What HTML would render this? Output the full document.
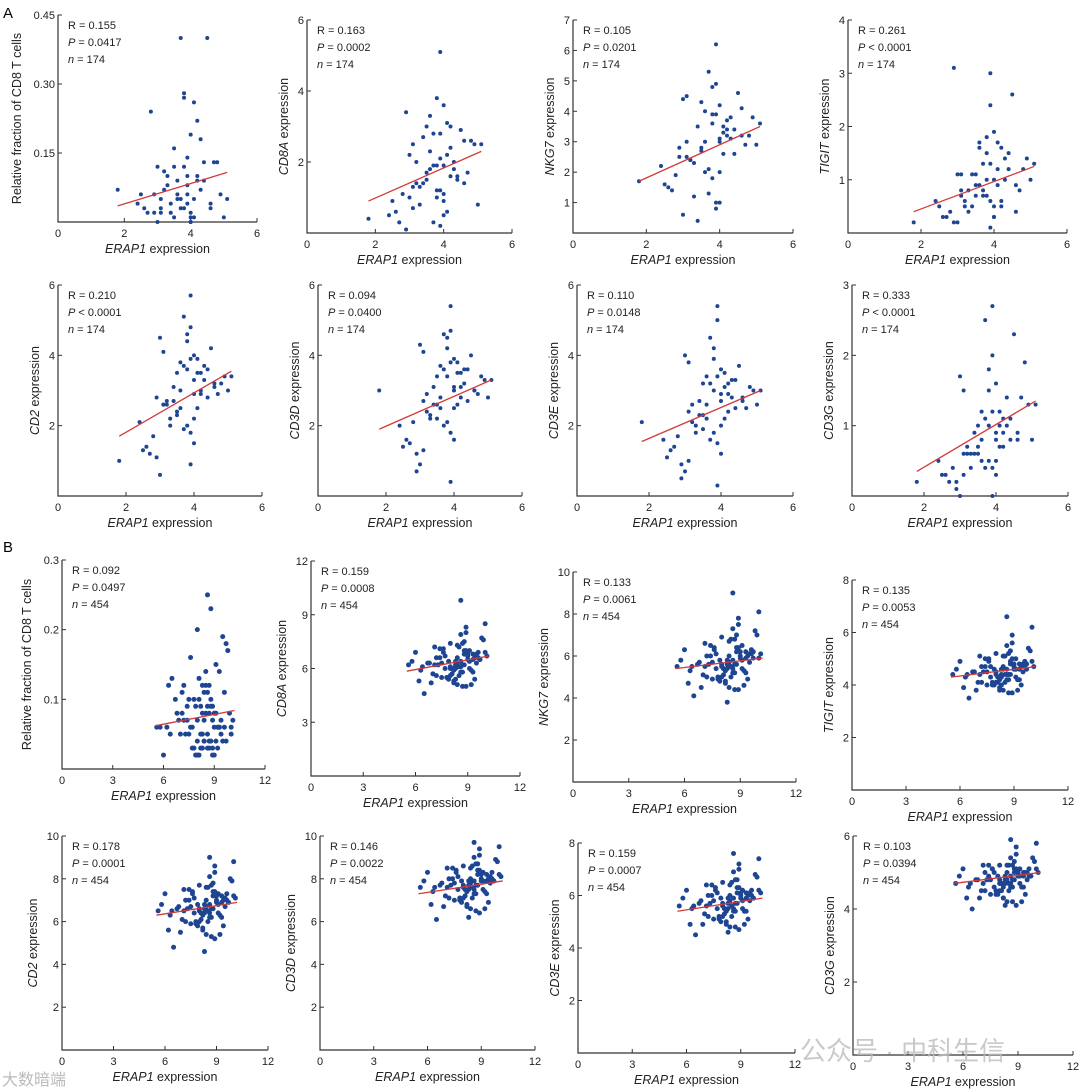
<!DOCTYPE html>
<html><head><meta charset="utf-8"><style>
body{margin:0;background:#fff;}
svg{display:block;font-family:"Liberation Sans","Noto Sans CJK SC",sans-serif;}
</style></head><body>
<svg id="fig" width="1080" height="1092" viewBox="0 0 1080 1092" xmlns="http://www.w3.org/2000/svg">
<text x="3" y="18" font-size="15">A</text>
<text x="3" y="552" font-size="15">B</text>
</svg>
<script>
const xA=[3.1,3.9,4.2,2.6,3.5,4.0,3.8,4.6,3.3,2.9,4.4,3.7,4.1,3.0,3.6,4.9,2.4,3.9,4.3,3.2,3.8,4.0,1.8,3.4,4.7,3.6,2.8,4.1,3.9,3.5,4.5,3.1,3.7,4.2,5.1,3.3,4.0,2.7,3.8,4.4,3.9,3.0,4.6,3.6,4.1,2.5,3.5,4.8,3.9,3.2,4.0,3.7,4.3,2.9,3.4,4.2,5.0,3.8,3.1,4.0];
const yA1=[0.02,0.06,0.10,0.03,0.12,0.01,0.27,0.04,0.08,0.02,0.13,0.40,0.05,0.00,0.09,0.06,0.04,0.14,0.07,0.11,0.03,0.19,0.07,0.02,0.13,0.05,0.24,0.01,0.08,0.16,0.40,0.05,0.03,0.22,0.05,0.10,0.00,0.02,0.28,0.09,0.04,0.12,0.03,0.06,0.26,0.06,0.01,0.13,0.10,0.07,0.02,0.05,0.18,0.06,0.04,0.09,0.01,0.12,0.03,0.00];
const yA2=[1.3,2.8,1.6,0.6,3.0,1.9,1.2,2.6,0.8,3.4,1.5,0.3,2.2,1.0,1.8,2.5,0.5,5.1,2.0,1.4,3.8,0.9,0.4,2.7,1.7,2.3,1.1,3.1,0.2,1.5,2.9,0.7,1.9,2.4,2.5,1.3,3.6,0.3,1.0,1.6,2.1,2.2,1.4,3.3,0.6,0.9,1.7,2.6,1.2,2.0,0.5,2.8,1.8,0.1,1.4,3.0,0.8,1.9,2.5,1.1];
const yA3=[2.5,3.9,3.2,1.5,4.3,2.0,3.6,4.1,1.2,2.8,3.4,5.3,2.6,0.6,3.0,3.8,2.2,6.2,3.1,2.4,4.8,1.0,1.7,3.5,2.9,4.0,1.9,3.3,0.8,2.7,4.6,3.0,2.1,3.7,3.6,2.3,4.2,1.4,3.9,2.6,1.0,4.4,3.2,2.0,3.5,1.6,2.8,3.2,4.9,2.4,3.1,1.3,3.8,2.5,0.4,3.4,2.9,1.8,4.5,3.0];
const yA4=[0.8,1.3,0.6,0.3,1.1,0.5,1.5,0.9,0.4,3.1,1.2,0.7,1.7,0.2,0.9,1.4,0.6,3.0,1.0,0.5,1.8,0.3,0.2,1.1,0.8,1.6,0.4,1.2,0.1,0.9,2.6,0.7,1.3,0.5,1.3,0.8,1.9,0.3,1.0,1.5,0.6,1.1,0.4,1.7,0.9,0.5,0.7,1.2,2.4,0.6,1.0,0.8,1.4,0.2,0.5,1.6,1.0,0.7,1.1,0.3];
const yA5=[2.6,3.9,3.0,1.4,3.5,2.2,4.4,3.2,2.0,2.8,3.6,5.1,2.5,0.6,3.0,3.4,2.1,5.7,3.3,2.7,4.6,1.5,1.0,3.1,2.9,3.8,1.7,3.5,0.9,2.4,4.2,2.6,3.7,2.9,3.4,2.2,4.0,1.2,3.6,2.8,1.8,4.5,3.1,2.5,3.9,1.3,2.3,3.2,4.8,2.6,3.3,1.9,3.7,1.1,2.7,3.5,3.0,2.0,4.1,2.9];
const yA6=[2.7,3.8,3.1,1.6,3.4,2.5,4.2,3.0,2.2,0.7,3.6,4.6,2.6,0.9,2.8,3.3,2.0,5.4,3.2,2.4,4.5,1.6,3.0,3.1,2.9,3.7,2.1,3.5,0.4,2.6,4.0,1.3,3.6,2.8,3.3,2.3,3.9,1.5,3.4,2.7,1.8,4.3,3.0,2.5,3.8,1.4,2.2,3.4,4.7,2.9,3.1,2.0,3.6,1.2,2.6,3.5,2.8,2.1,4.1,3.0];
const yA7=[2.4,3.4,2.9,1.3,3.2,2.0,3.9,2.7,1.8,0.5,3.3,4.5,2.2,0.7,2.6,3.0,1.6,5.4,2.8,2.1,4.2,1.2,2.1,2.7,2.5,3.4,1.7,3.1,0.3,2.3,3.7,1.0,3.2,2.4,3.0,2.0,3.6,1.4,3.0,2.5,1.5,4.0,2.8,2.2,3.5,1.1,1.9,3.1,5.0,2.6,2.9,1.6,3.3,0.9,2.3,3.2,2.6,1.8,3.8,2.7];
const yA8=[0.6,1.2,0.9,0.3,1.0,0.5,1.5,0.8,0.4,0.1,1.1,2.5,0.7,0.0,0.8,1.3,0.5,2.7,1.0,0.6,1.8,0.3,0.2,0.9,1.4,1.2,0.4,1.0,0.0,0.7,2.3,0.3,1.1,0.7,1.3,0.6,1.6,0.2,1.0,0.8,0.4,1.7,0.9,0.5,1.2,0.3,0.6,1.9,2.0,0.7,0.9,0.4,1.4,0.2,0.6,1.1,0.8,0.5,1.5,0.8];
const xB=[8.6,9.1,7.8,8.3,9.5,6.9,8.8,8.0,9.3,7.4,8.5,10.0,8.2,7.1,8.9,9.7,6.3,8.4,8.7,7.6,9.0,8.1,5.6,9.4,8.6,7.9,8.3,9.8,7.2,8.8,6.7,9.2,8.0,8.5,7.5,9.6,8.9,6.0,8.2,9.1,7.7,8.4,10.1,8.7,7.3,9.0,8.6,6.5,8.1,9.3,7.9,8.8,9.5,7.0,8.4,8.0,9.9,6.2,8.6,9.2,7.6,8.3,8.9,7.4,9.7,8.5,6.8,8.1,9.0,7.8,8.7,9.4,5.8,8.2,8.8,7.1,9.1,8.4,10.0,7.7,8.6,9.3,6.4,8.0,8.9,7.5,9.6,8.3,8.7,7.2];
const yB1=[0.05,0.08,0.03,0.12,0.04,0.07,0.10,0.02,0.06,0.09,0.14,0.05,0.03,0.11,0.07,0.18,0.12,0.04,0.08,0.06,0.02,0.13,0.06,0.05,0.25,0.09,0.03,0.17,0.07,0.04,0.10,0.06,0.20,0.08,0.05,0.11,0.03,0.02,0.09,0.15,0.06,0.04,0.07,0.12,0.05,0.08,0.03,0.13,0.10,0.06,0.02,0.09,0.19,0.05,0.07,0.04,0.08,0.06,0.11,0.03,0.16,0.05,0.09,0.07,0.04,0.12,0.08,0.02,0.06,0.10,0.03,0.07,0.06,0.05,0.23,0.08,0.04,0.11,0.06,0.03,0.09,0.14,0.05,0.07,0.02,0.10,0.06,0.08,0.04,0.12];
const yB2=[6.1,7.0,5.5,6.4,6.8,5.2,7.5,6.0,5.8,6.6,7.2,6.9,5.3,6.2,8.3,6.5,5.9,6.3,5.0,7.1,6.7,5.7,6.2,5.4,9.8,6.4,6.0,7.7,5.6,6.8,6.3,5.1,7.4,6.1,5.5,6.6,8.0,6.9,5.2,6.4,6.0,7.3,6.7,5.8,6.2,6.5,7.9,4.6,6.0,6.8,5.4,7.0,6.3,5.7,6.6,6.1,7.6,5.3,6.4,5.9,6.9,6.2,5.0,7.1,6.5,5.6,6.3,6.0,6.8,5.5,7.4,6.6,6.4,5.9,6.2,7.2,6.0,5.1,8.5,6.7,5.8,6.5,6.1,5.6,7.0,6.3,6.9,5.4,6.2,6.6];
const yB3=[5.4,6.5,5.0,5.8,6.1,4.5,7.0,5.6,5.2,6.0,6.8,5.9,4.8,5.5,7.8,6.2,5.3,5.7,4.4,6.4,6.0,5.1,5.5,4.9,9.0,5.8,5.4,7.2,5.0,6.2,5.6,4.6,6.9,5.5,4.9,6.1,7.5,6.3,4.7,5.8,5.4,6.7,6.1,5.2,5.6,5.9,7.3,4.1,5.4,6.2,4.8,6.4,5.7,5.1,6.0,5.5,7.0,4.7,5.8,5.3,6.3,5.6,4.4,6.5,5.9,5.0,5.7,5.4,6.2,4.9,6.8,6.0,5.8,5.3,5.6,6.6,5.4,4.5,8.1,6.1,5.2,5.9,5.5,5.0,6.4,5.7,6.3,3.8,5.6,6.0];
const yB4=[4.4,5.0,4.1,4.6,4.8,3.8,5.3,4.5,4.2,4.7,5.1,4.9,3.9,4.4,5.9,4.8,4.3,4.6,3.7,5.0,4.7,4.1,4.4,4.0,6.6,4.6,4.3,5.4,4.1,4.8,4.5,3.8,5.2,4.4,4.0,4.7,5.6,4.9,3.8,4.6,4.3,5.1,4.7,4.2,4.5,4.6,5.5,3.5,4.3,4.8,4.0,4.9,4.5,4.1,4.7,4.4,5.3,3.9,4.6,4.2,4.9,4.4,3.7,5.0,4.6,4.1,4.5,4.3,4.8,4.0,5.2,4.7,4.6,4.2,4.4,5.1,4.3,3.8,6.2,4.7,4.2,4.6,4.4,4.1,5.0,4.5,4.9,4.0,4.4,4.7];
const yB5=[6.4,7.3,6.0,6.8,7.1,5.5,7.8,6.6,6.2,7.0,7.6,7.2,5.7,6.5,8.6,6.9,6.3,6.7,5.3,7.4,7.0,6.1,6.5,5.8,9.0,6.8,6.4,8.0,6.0,7.2,6.6,5.4,7.7,6.5,5.9,7.0,8.3,7.3,5.6,6.8,6.4,7.6,7.1,6.2,6.6,6.9,8.1,4.8,6.4,7.2,5.8,7.4,6.7,6.1,7.0,6.5,7.9,5.6,6.8,6.3,7.3,6.6,5.2,7.5,6.9,6.0,6.7,6.4,7.2,5.9,7.7,7.0,6.8,6.3,6.6,7.5,6.4,5.4,8.8,7.1,6.2,6.9,6.5,6.0,7.4,6.7,7.3,4.6,6.6,7.0];
const yB6=[7.5,8.3,7.1,7.9,8.1,6.7,8.7,7.7,7.3,8.0,8.6,8.2,6.8,7.6,9.4,7.9,7.4,7.8,6.5,8.4,8.0,7.2,7.6,6.9,9.7,7.9,7.5,8.9,7.1,8.2,7.7,6.6,8.6,7.6,7.0,8.0,9.1,8.3,6.7,7.9,7.5,8.5,8.1,7.3,7.7,7.9,9.0,6.1,7.5,8.2,6.9,8.4,7.8,7.2,8.0,7.6,8.8,6.8,7.9,7.4,8.3,7.7,6.4,8.5,7.9,7.1,7.8,7.5,8.2,7.0,8.7,8.0,7.9,7.4,7.7,8.5,7.5,6.6,9.5,8.1,7.3,7.9,7.6,7.1,8.4,7.8,8.3,6.2,7.7,8.0];
const yB7=[5.5,6.2,5.2,5.9,6.1,4.9,6.6,5.7,5.4,6.0,6.5,6.2,5.0,5.6,7.2,5.9,5.5,5.8,4.8,6.3,6.0,5.3,5.6,5.1,7.6,5.9,5.5,6.8,5.2,6.1,5.7,4.9,6.5,5.6,5.1,6.0,7.0,6.2,4.9,5.8,5.5,6.4,6.1,5.4,5.7,5.9,6.9,4.5,5.5,6.1,5.0,6.3,5.8,5.3,6.0,5.6,6.7,4.9,5.9,5.4,6.2,5.7,4.7,6.4,5.9,5.2,5.8,5.5,6.1,5.1,6.6,6.0,5.9,5.4,5.7,6.4,5.5,4.8,7.4,6.1,5.4,5.9,5.6,5.2,6.3,5.8,6.2,4.6,5.7,6.0];
const yB8=[4.7,5.1,4.5,4.9,5.0,4.3,5.3,4.8,4.6,4.9,5.2,5.1,4.3,4.7,5.7,4.9,4.6,4.8,4.2,5.1,5.0,4.5,4.7,4.4,5.9,4.9,4.7,5.4,4.5,5.0,4.8,4.2,5.2,4.7,4.4,4.9,5.5,5.1,4.3,4.9,4.6,5.2,5.0,4.6,4.8,4.9,5.4,4.0,4.7,5.0,4.4,5.1,4.8,4.5,5.0,4.7,5.3,4.3,4.9,4.6,5.1,4.8,4.1,5.2,4.9,4.5,4.8,4.7,5.0,4.4,5.2,5.0,4.9,4.6,4.8,5.2,4.7,4.2,5.8,5.0,4.6,4.9,4.7,4.5,5.1,4.8,5.1,4.1,4.8,5.0];
const genes=["CD8T","CD8A","NKG7","TIGIT","CD2","CD3D","CD3E","CD3G"];
const rA=["0.155","0.163","0.105","0.261","0.210","0.094","0.110","0.333"];
const pA=["= 0.0417","= 0.0002","= 0.0201","< 0.0001","< 0.0001","= 0.0400","= 0.0148","< 0.0001"];
const rB=["0.092","0.159","0.133","0.135","0.178","0.146","0.159","0.103"];
const pB=["= 0.0497","= 0.0008","= 0.0061","= 0.0053","= 0.0001","= 0.0022","= 0.0007","= 0.0394"];
const fitA0=[0.035,0.9,1.7,0.4,1.7,1.9,1.55,0.35];
const fitA1=[0.108,2.3,3.5,1.25,3.55,3.3,3.0,1.35];
const fitB0=[0.062,5.85,5.4,4.3,6.3,7.3,5.4,4.7];
const fitB1=[0.084,6.7,5.9,4.7,6.9,7.9,5.9,5.0];
const yMaxA=[0.45,6,7,4,6,6,6,3];
const yMaxB=[0.3,12,10,8,10,10,8,6];
const yTicksA=[["0.15","0.30","0.45"],["2","4","6"],["1","2","3","4","5","6","7"],["1","2","3","4"],["2","4","6"],["2","4","6"],["2","4","6"],["1","2","3"]];
const yTicksB=[["0.1","0.2","0.3"],["3","6","9","12"],["2","4","6","8","10"],["2","4","6","8"],["2","4","6","8","10"],["2","4","6","8","10"],["2","4","6","8"],["2","4","6"]];
const xTicksA=["0","2","4","6"];
const xTicksB=["0","3","6","9","12"];
const yDataA=[yA1,yA2,yA3,yA4,yA5,yA6,yA7,yA8];
const yDataB=[yB1,yB2,yB3,yB4,yB5,yB6,yB7,yB8];

const frA=[[58,257,15,222],[307,512,20,233],[573,793,20,233],[848,1067,20,233],[58,262,285,496],[318,522,285,496],[577,793,285,496],[852,1068,285,496]];
const frB=[[62,265,560,769],[311,520,561,776],[573,796,572,782],[852,1068,580,790],[62,268,836,1050],[320,535,836,1050],[578,795,843,1053],[853,1073,836,1055]];

const svg=document.getElementById('fig');
const NS="http://www.w3.org/2000/svg";
function mk(tag,attrs,parent){const e=document.createElementNS(NS,tag);for(const k in attrs)e.setAttribute(k,attrs[k]);(parent||svg).appendChild(e);return e;}

function panel(fr,xs,ys,xMax,yMax,xt,yt,gene,r,p,n,f0,f1,fx0,fx1,id,rad){
  const [L,R,T,B]=fr;
  const sx=v=>L+(v/xMax)*(R-L);
  const sy=v=>B-(v/yMax)*(B-T);
  const g=mk('g',{});
  
  
  const ax=mk('path',{d:`M${L},${T}V${B}H${R}`,fill:'none',stroke:'#333','stroke-width':1.2},g);
  
  
  xt.forEach(t=>{const v=parseFloat(t);const x=sx(v);
    if(v>0)mk('line',{x1:x,y1:B,x2:x,y2:B-4,stroke:'#333'},g);
    const tx=mk('text',{x:x,y:B+15,'font-size':11,'text-anchor':'middle',fill:'#222'},g);tx.textContent=t;
    
    });
  let ml=1;
  yt.forEach(t=>{const v=parseFloat(t);const y=sy(v);ml=Math.max(ml,t.length);
    mk('line',{x1:L,y1:y,x2:L+4,y2:y,stroke:'#333'},g);
    const tx=mk('text',{x:L-3,y:y+4,'font-size':11,'text-anchor':'end',fill:'#222'},g);tx.textContent=t;
    
    });
  const xl=mk('text',{x:(L+R)/2,y:B+31,'font-size':12.5,'text-anchor':'middle',fill:'#222'},g);
  xl.innerHTML='<tspan font-style="italic">ERAP1</tspan> expression';
  
  
  const off=13+ml*6;
  const yl=mk('text',{transform:`translate(${L-off},${(T+B)/2}) rotate(-90)`,'font-size':12.5,'text-anchor':'middle',fill:'#222'},g);
  if(gene==="CD8T")yl.textContent='Relative fraction of CD8 T cells';
  else yl.innerHTML=`<tspan font-style="italic">${gene}</tspan> expression`;
  
  
  const st=mk('text',{x:L+10,y:T+14,'font-size':11,fill:'#222'},g);
  st.innerHTML=`<tspan x="${L+10}">R = ${r}</tspan><tspan x="${L+10}" dy="17"><tspan font-style="italic">P</tspan> ${p}</tspan><tspan x="${L+10}" dy="17"><tspan font-style="italic">n</tspan> = ${n}</tspan>`;
  
  
  xs.forEach((x,i)=>{const c=mk('circle',{cx:sx(x),cy:sy(ys[i]),r:rad,fill:'#1e4592'},g);
    
    });
  const fl=mk('line',{x1:sx(fx0),y1:sy(f0),x2:sx(fx1),y2:sy(f1),stroke:'#d23a3a','stroke-width':1.3},g);
  
  
}
for(let i=0;i<8;i++){
  panel(frA[i],xA,yDataA[i],6,yMaxA[i],xTicksA,yTicksA[i],genes[i],rA[i],pA[i],174,fitA0[i],fitA1[i],1.8,5.1,'a'+(i+1),2.0);
  panel(frB[i],xB,yDataB[i],12,yMaxB[i],xTicksB,yTicksB[i],genes[i],rB[i],pB[i],454,fitB0[i],fitB1[i],5.5,10.2,'b'+(i+1),2.5);
}
const wm=mk('text',{x:800,y:1060,'font-size':26,fill:'#bbb','fill-opacity':0.8});
wm.textContent='公众号 · 中科生信';


const wm2=mk('text',{x:2,y:1085,'font-size':16,fill:'#bbb'});
wm2.textContent='大数暗端';


</script>
</body></html>
